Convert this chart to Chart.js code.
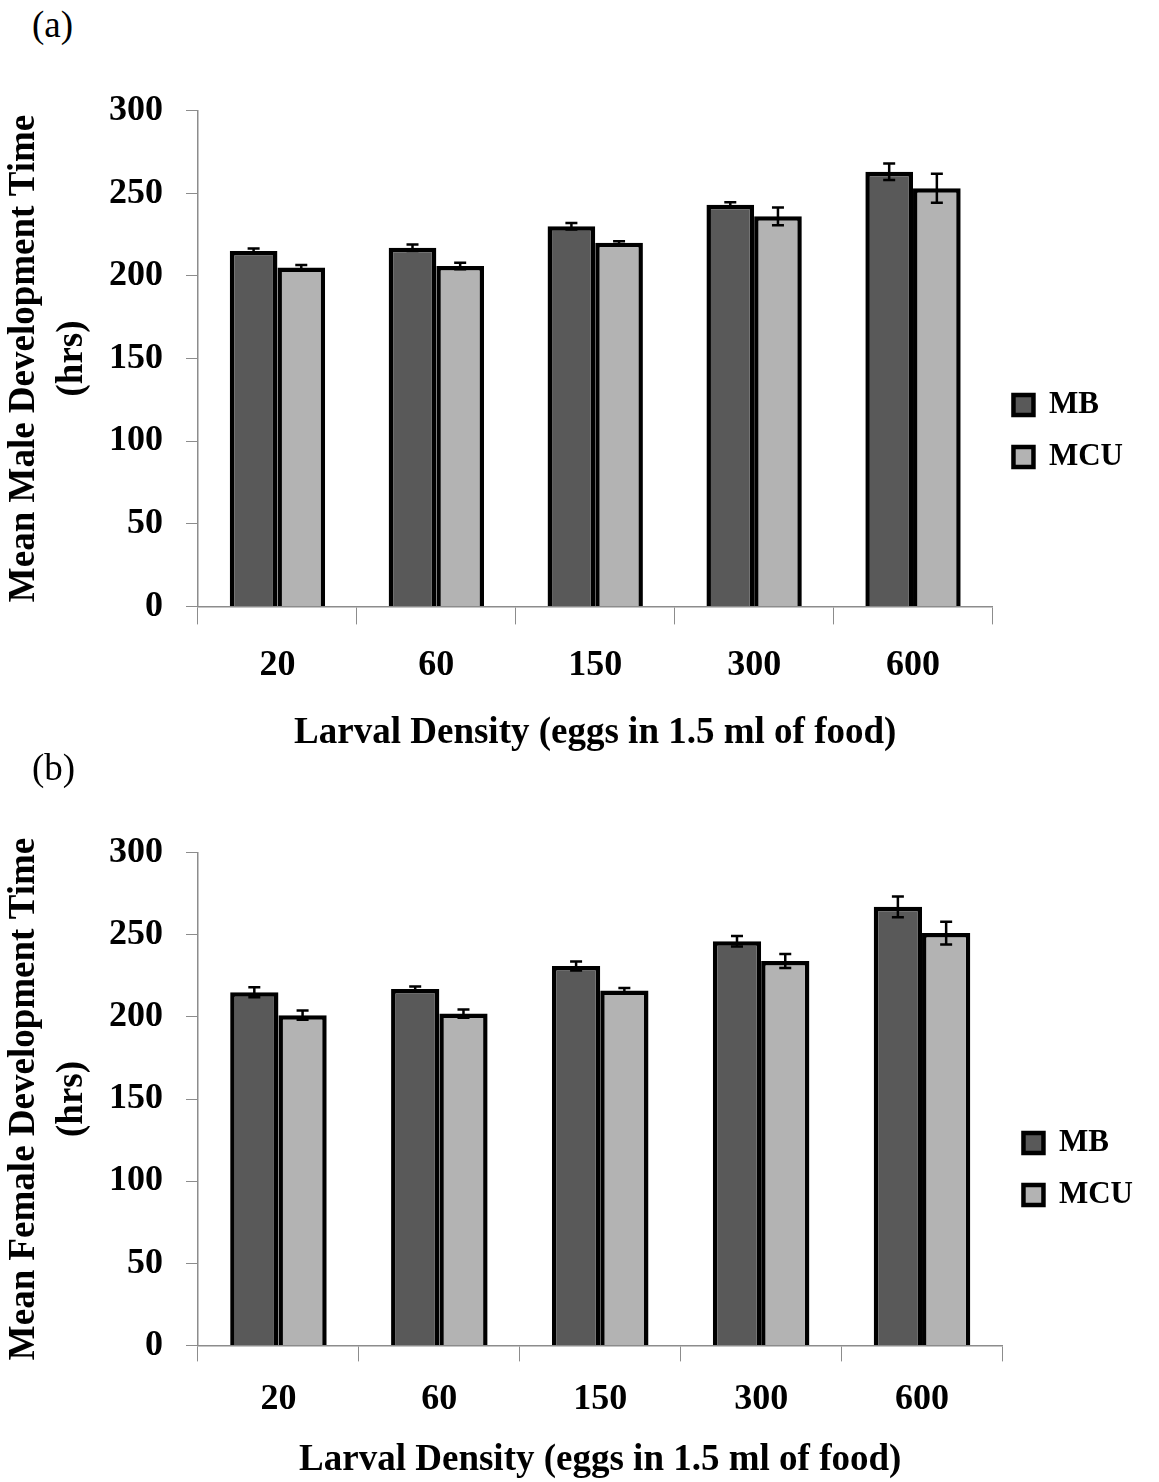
<!DOCTYPE html>
<html>
<head>
<meta charset="utf-8">
<script src="https://cdn.jsdelivr.net/npm/chart.js@4.4.1/dist/chart.umd.min.js"></script>
<style>
  body { margin: 0; background: #fff; overflow: hidden; }
  .panel { position: absolute; left: 0; width: 1159px; }
  .letra { position: absolute; left: 32px; font-family: "Liberation Serif", serif; font-size: 37px; line-height: 42px; }
</style>
</head>
<body>
<div class="letra" style="top:4px">(a)</div>
<div class="panel" style="top:66px;height:730px"><canvas id="graficoMacho"></canvas></div>
<div class="letra" style="top:747px">(b)</div>
<div class="panel" style="top:808px;height:722px"><canvas id="graficoHembra"></canvas></div>

<script>
// datos
const densidades = ["20", "60", "150", "300", "600"];
const series = ["MB", "MCU"];

const machoMB = [215, 217, 230, 243, 263];
const machoMBerr = [1.5, 2, 2, 1.5, 5];
const machoMCU = [205, 206, 220, 236, 253];
const machoMCUerr = [1.5, 2, 1, 5.3, 8.8];

const hembraMB = [215, 217, 231, 246, 267];
const hembraMBerr = [3, 1.5, 2.7, 3.2, 6.3];
const hembraMCU = [201, 202, 216, 234, 251];
const hembraMCUerr = [2.8, 2.5, 1.5, 4.3, 6.9];

const fuente = "'Liberation Serif', 'Times New Roman', serif";
const gris = "#8c8c8c";

// barras de error dibujadas con las escalas del grafico
const barrasError = {
  id: "barrasError",
  afterDatasetsDraw(chart) {
    const c = chart.ctx;
    const y = chart.scales.y;
    c.save();
    c.strokeStyle = "#000";
    c.lineWidth = 2.5;
    chart.data.datasets.forEach((ds, i) => {
      const meta = chart.getDatasetMeta(i);
      meta.data.forEach((barra, j) => {
        const v = ds.data[j];
        const e = ds.errores[j];
        const arriba = y.getPixelForValue(v + e);
        const abajo = y.getPixelForValue(v - e);
        c.beginPath();
        c.moveTo(barra.x, arriba);
        c.lineTo(barra.x, abajo);
        c.moveTo(barra.x - 6, arriba);
        c.lineTo(barra.x + 6, arriba);
        c.moveTo(barra.x - 6, abajo);
        c.lineTo(barra.x + 6, abajo);
        c.stroke();
      });
    });
    c.restore();
  },
};

const crearGrafico = (id, tituloY, datosMB, errMB, datosMCU, errMCU, relleno, ejeX) => {
  new Chart(document.getElementById(id), {
    type: "bar",
    data: {
      labels: densidades,
      datasets: [
        {
          label: series[0],
          data: datosMB,
          errores: errMB,
          backgroundColor: "#595959",
          borderColor: "#000",
          borderWidth: 4.5,
        },
        {
          label: series[1],
          data: datosMCU,
          errores: errMCU,
          backgroundColor: "#b3b3b3",
          borderColor: "#000",
          borderWidth: 4.5,
        },
      ],
    },
    options: {
      responsive: true,
      maintainAspectRatio: false,
      animation: false,
      categoryPercentage: 0.6,
      barPercentage: 1.0,
      layout: { padding: relleno },
      plugins: {
        tooltip: { enabled: false },
        legend: {
          position: "right",
          labels: {
            color: "#000",
            font: { family: fuente, size: 31, weight: "bold" },
            boxWidth: 20,
            boxHeight: 20,
            padding: 21,
          },
        },
      },
      scales: {
        x: {
          grid: { drawOnChartArea: false, color: gris, tickLength: ejeX.tick },
          border: { color: gris, width: 1.5 },
          ticks: { color: "#000", font: { family: fuente, size: 36, weight: "bold" }, padding: ejeX.pad },
          title: {
            display: true,
            text: "Larval Density (eggs in 1.5 ml of food)",
            color: "#000",
            font: { family: fuente, size: 37, weight: "bold" },
            padding: ejeX.titulo,
          },
        },
        y: {
          min: 0,
          max: 300,
          afterFit: (eje) => { eje.width = 198; },
          ticks: { stepSize: 50, color: "#000", font: { family: fuente, size: 36, weight: "bold" }, padding: 23 },
          grid: { drawOnChartArea: false, color: gris, tickLength: 12 },
          border: { color: gris, width: 1.5 },
          title: {
            display: true,
            text: [tituloY, "(hrs)"],
            color: "#000",
            font: { family: fuente, size: 37, weight: "bold", lineHeight: 1.3 },
            padding: { top: 0, bottom: 12 },
          },
        },
      },
    },
    plugins: [barrasError],
  });
};

crearGrafico("graficoMacho", "Mean Male Development Time", machoMB, machoMBerr, machoMCU, machoMCUerr,
  { top: 0, right: 26, left: 0, bottom: 0 },
  { tick: 18, pad: 20, titulo: { top: 4, bottom: 40 } });
crearGrafico("graficoHembra", "Mean Female Development Time", hembraMB, hembraMBerr, hembraMCU, hembraMCUerr,
  { top: 0, right: 16, left: 0, bottom: 0 },
  { tick: 16, pad: 17, titulo: { top: 0, bottom: 47 } });
</script>
</body>
</html>
